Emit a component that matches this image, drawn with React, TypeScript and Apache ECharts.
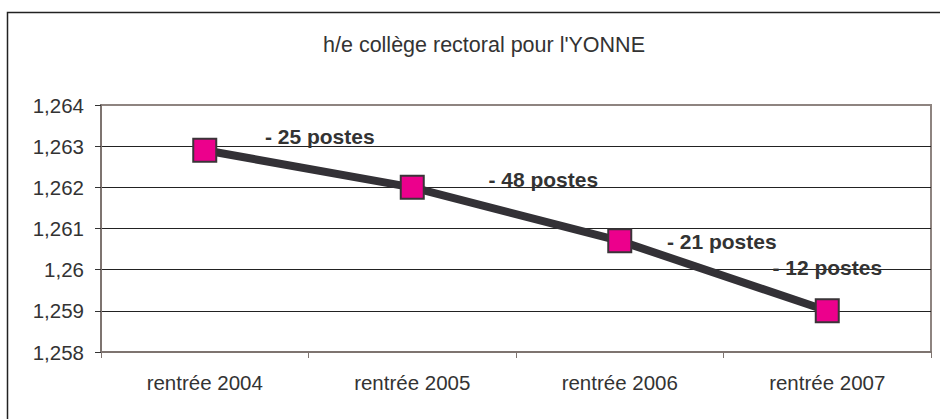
import React, { useEffect, useRef } from "react";
import * as echarts from "echarts";

const titleText = "h/e collège rectoral pour l'YONNE";
const categories = ["rentrée 2004", "rentrée 2005", "rentrée 2006", "rentrée 2007"];
const values = [1.2629, 1.262, 1.2607, 1.259];
const annotations = ["- 25 postes", "- 48 postes", "- 21 postes", "- 12 postes"];
const yMin = 1.258;
const yMax = 1.264;
const yStep = 0.001;

const labelOffsets: [number, number][] = [
  [115, -14],
  [131, -8],
  [102, 1],
  [0, -43],
];

export default function App() {
  const ref = useRef<HTMLDivElement>(null);
  useEffect(() => {
    if (!ref.current) return;
    const chart = echarts.init(ref.current, null, { renderer: "svg" });
    const font = "'Liberation Sans', Arial, sans-serif";
    chart.setOption({
      animation: false,
      backgroundColor: "#ffffff",
      title: {
        text: titleText,
        left: 479,
        top: 29,
        textAlign: "center",
        textStyle: { fontFamily: font, fontSize: 21.5, fontWeight: "normal", color: "#333333" },
      },
      graphic: [
        {
          type: "rect",
          shape: { x: 7.5, y: 12.5, width: 960, height: 420 },
          style: { fill: "none", stroke: "#222222", lineWidth: 1.5 },
          silent: true,
          z: 0,
        },
      ],
      grid: {
        left: 101,
        right: 9,
        top: 105,
        bottom: 67,
        show: true,
        borderColor: "#8e8480",
        borderWidth: 2,
        backgroundColor: "transparent",
      },
      xAxis: {
        type: "category",
        data: categories,
        boundaryGap: true,
        axisLine: { show: true, lineStyle: { color: "#7e7470", width: 2 } },
        axisTick: { show: true, length: 6, alignWithLabel: false, lineStyle: { color: "#7e7470", width: 1 } },
        axisLabel: { fontFamily: font, fontSize: 20.5, color: "#333333", margin: 20 },
        splitLine: { show: false },
      },
      yAxis: {
        type: "value",
        min: yMin,
        max: yMax,
        interval: yStep,
        axisLine: { show: true, lineStyle: { color: "#7e7470", width: 2 } },
        axisTick: { show: true, length: 6, lineStyle: { color: "#333333", width: 1 } },
        axisLabel: {
          fontFamily: font,
          fontSize: 20.5,
          color: "#333333",
          margin: 17,
          formatter: (v: number) => String(Math.round(v * 1000) / 1000).replace(".", ","),
        },
        splitLine: { show: true, showMinLine: false, showMaxLine: false, lineStyle: { color: "#222222", width: 1 } },
      },
      series: [
        {
          type: "line",
          data: values.map((v, i) => ({
            value: v,
            label: {
              show: true,
              position: "inside",
              offset: labelOffsets[i],
              formatter: annotations[i],
            },
          })),
          lineStyle: { color: "#333136", width: 8 },
          symbol: "rect",
          symbolSize: 23,
          itemStyle: { color: "#ec008c", borderColor: "#3a3438", borderWidth: 2 },
          label: {
            fontFamily: font,
            fontSize: 21,
            fontWeight: "bold",
            color: "#333333",
          },
          z: 3,
        },
      ],
    });
    return () => chart.dispose();
  }, []);
  return (
    <div
      ref={ref}
      style={{ position: "fixed", left: 0, top: 0, width: 940, height: 419, background: "#fff" }}
    />
  );
}
